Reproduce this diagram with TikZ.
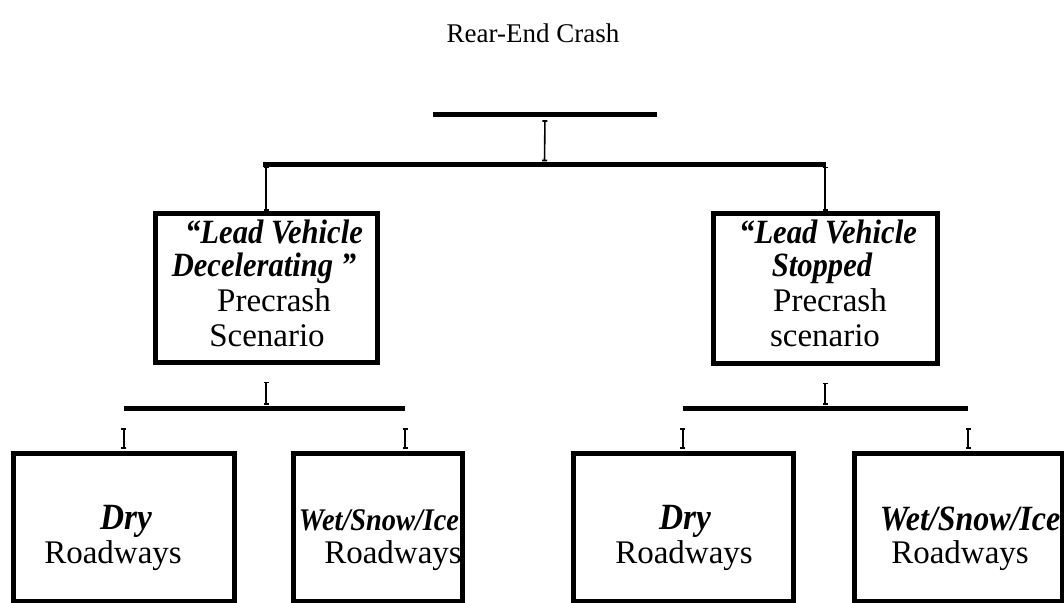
\documentclass[tikz,border=0pt]{standalone}
\usepackage{fontspec}
\setmainfont{Liberation Serif}
\newfontfamily\bifont{Liberation Serif}[FakeStretch=0.9]
\usetikzlibrary{arrows.meta}
\begin{document}
\begin{tikzpicture}[x=1pt,y=-1pt,
  bar/.style={rectangle,fill=black,inner sep=0pt,minimum height=5pt},
  box/.style={rectangle,draw,line width=5pt,inner sep=0pt},
  conn/.style={line width=1.6pt,{Bar[width=5pt]}-{Bar[width=5pt]}},
  rt/.style={font=\fontsize{33}{36}\selectfont,inner sep=0pt,anchor=base},
  bi/.style={font=\fontsize{34}{36}\bifont\bfseries\itshape,inner sep=0pt,anchor=base},
  bisize/.style={font=\fontsize{#1}{36}\bifont\bfseries\itshape}]
\useasboundingbox (0,0) rectangle (1064,602);

% title
\node[font=\fontsize{27}{30}\selectfont,inner sep=0pt,anchor=base] (title) at (533,43) {Rear-End Crash};

% horizontal bars
\node[bar,minimum width=224pt] (b0) at (545,114) {};
\node[bar,minimum width=563pt] (b1) at (544.5,164) {};
\node[bar,minimum width=281pt] (b2) at (264.5,408) {};
\node[bar,minimum width=285pt] (b3) at (825.5,408) {};

% scenario boxes
\node[box,minimum width=222pt,minimum height=149pt] (lm) at (266,287.5) {};
\node[box,minimum width=224pt,minimum height=150pt] (rm) at (825,288) {};

% roadway boxes
\node[box,minimum width=221pt,minimum height=148pt] (d1) at (123.5,527) {};
\node[box,minimum width=169pt,minimum height=148pt] (w1) at (377.5,527) {};
\node[box,minimum width=220pt,minimum height=148pt] (d2) at (683,527) {};
\node[box,minimum width=208pt,minimum height=148pt] (w2) at (958,527) {};

% box texts
\node[bi] (lm1) at (274,243) {“Lead Vehicle};
\node[bi] (lm2) at (264,276) {Decelerating ”};
\node[rt] (lm3) at (274,311) {Precrash};
\node[rt] (lm4) at (267,346) {Scenario};

\node[bi] (rm1) at (828,243) {“Lead Vehicle};
\node[bi] (rm2) at (822,276) {Stopped};
\node[rt] (rm3) at (830,311) {Precrash};
\node[rt] (rm4) at (825,346) {scenario};

\node[bi,bisize=37] (d1a) at (126,529) {Dry};
\node[rt] (d1b) at (113,563) {Roadways};
\node[bi,bisize=31.5] (w1a) at (379,530) {Wet/Snow/Ice};
\node[rt] (w1b) at (393,563) {Roadways};
\node[bi,bisize=37] (d2a) at (685,529) {Dry};
\node[rt] (d2b) at (684,563) {Roadways};
\node[bi,bisize=35.5] (w2a) at (970,530) {Wet/Snow/Ice};
\node[rt] (w2b) at (960,563) {Roadways};

% connectors
\draw[conn,shorten <=3.5pt] (b0.south) -- (b1.north);
\draw[conn] (b1.south -| lm.north) -- (lm.north);
\draw[conn] (b1.south -| rm.north) -- (rm.north);
\draw[conn,shorten <=17pt,shorten >=0.5pt] (lm.south) -- (lm.south |- b2.north);
\draw[conn,shorten <=17pt,shorten >=0.5pt] (rm.south) -- (rm.south |- b3.north);
\draw[conn,shorten <=17.5pt,shorten >=1.5pt] (b2.south west) -- (b2.south west |- d1.north);
\draw[conn,shorten <=17.5pt,shorten >=1.5pt] (b2.south east) -- (b2.south east |- w1.north);
\draw[conn,shorten <=17.5pt,shorten >=1.5pt] (b3.south west) -- (b3.south west |- d2.north);
\draw[conn,shorten <=17.5pt,shorten >=1.5pt] (b3.south east) -- (b3.south east |- w2.north);
\end{tikzpicture}
\end{document}
